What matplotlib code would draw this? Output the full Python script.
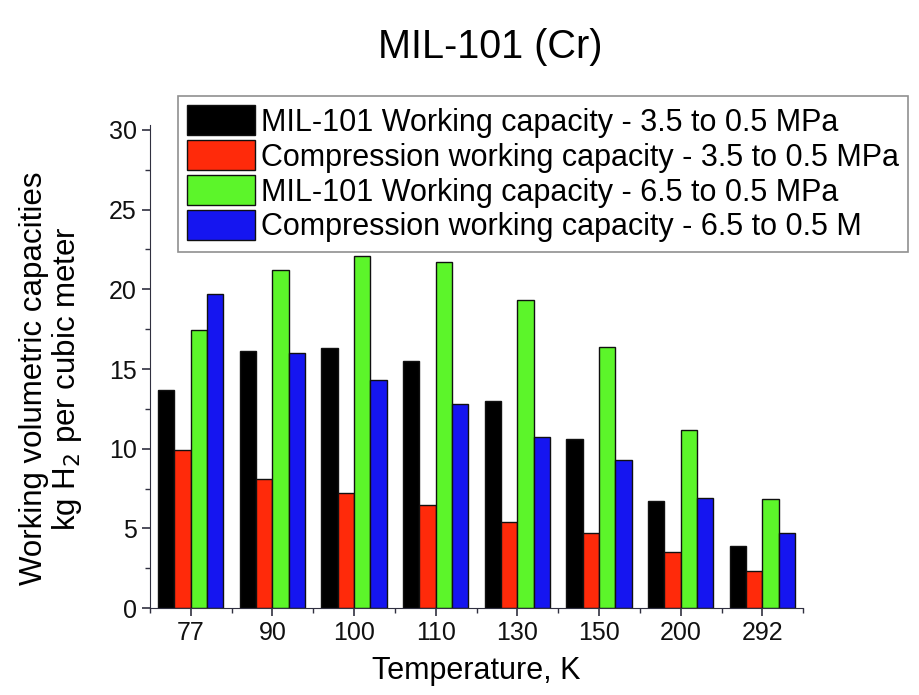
import numpy as np
import matplotlib.pyplot as plt
from matplotlib.ticker import MultipleLocator

plt.rcParams['font.family'] = ['Liberation Sans', 'DejaVu Sans']

# datos
temps = ['77', '90', '100', '110', '130', '150', '200', '292']
mil_35 = [13.7, 16.15, 16.3, 15.5, 13.0, 10.6, 6.75, 3.9]
comp_35 = [9.9, 8.1, 7.2, 6.5, 5.4, 4.7, 3.5, 2.35]
mil_65 = [17.45, 21.2, 22.1, 21.7, 19.3, 16.4, 11.2, 6.85]
comp_65 = [19.7, 16.0, 14.3, 12.8, 10.75, 9.3, 6.9, 4.7]

labels = ['MIL-101 Working capacity - 3.5 to 0.5 MPa',
          'Compression working capacity - 3.5 to 0.5 MPa',
          'MIL-101 Working capacity - 6.5 to 0.5 MPa',
          'Compression working capacity - 6.5 to 0.5 M']
colors = ['#000000', '#ff2a0a', '#5cf52a', '#1515f0']
series = [mil_35, comp_35, mil_65, comp_65]

fig = plt.figure(figsize=(9.2, 6.95), dpi=100)
ax = fig.add_axes([0.163, 0.125, 0.71, 0.695])

x = np.arange(len(temps))
w = 0.2
for i in range(4):
    ax.bar(x + (i - 1.5) * w, series[i], width=w, color=colors[i],
           edgecolor='#101010', linewidth=1, label=labels[i])

ax.set_xlim(-0.5, 7.5)
ax.set_ylim(0, 30.3)
ax.set_xticks(x)
ax.set_xticklabels(temps)
ax.xaxis.set_minor_locator(MultipleLocator(0.5))
ax.yaxis.set_major_locator(MultipleLocator(5))
ax.yaxis.set_minor_locator(MultipleLocator(2.5))
ax.spines['top'].set_visible(False)
ax.spines['right'].set_visible(False)
ax.spines['left'].set_color('#303040')
ax.spines['bottom'].set_color('#303040')
ax.tick_params(axis='both', which='major', direction='out', length=6, width=1.2,
               labelsize=18, colors='#303040', labelcolor='#111111')
ax.tick_params(axis='both', which='minor', direction='out', length=3.5, width=1,
               colors='#303040')

ax.set_xlabel('Temperature, K', fontsize=22, labelpad=8)
ax.set_ylabel('Working volumetric capacities\nkg H$_2$ per cubic meter', fontsize=22.5,
              labelpad=18, linespacing=1.05)
ax.yaxis.label.set_y(0.475)
fig.text(0.533, 0.932, 'MIL-101 (Cr)', fontsize=28.5, ha='center', va='center')

leg = ax.legend(loc='upper left', bbox_to_anchor=(0.193, 0.862),
                bbox_transform=fig.transFigure, borderaxespad=0,
                fontsize=22, handlelength=2.22, handleheight=1.15,
                handletextpad=0.2, labelspacing=0.08, borderpad=0.3,
                fancybox=False, framealpha=1, edgecolor='#909090')
leg.get_frame().set_linewidth(1.2)

plt.savefig('out.png')
